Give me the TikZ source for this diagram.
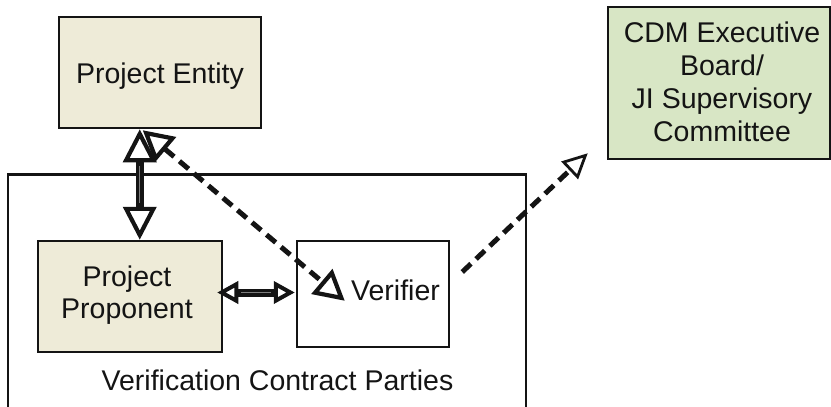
\documentclass[tikz,border=0pt]{standalone}
\usepackage{fontspec}
\setmainfont{Liberation Sans}
\usetikzlibrary{arrows.meta}
\definecolor{beige}{RGB}{238,235,216}
\definecolor{palegreen}{RGB}{216,230,197}
\definecolor{ink}{RGB}{20,20,20}
\begin{document}
\begin{tikzpicture}[x=1pt,y=-1pt,
  box/.style={draw=ink, line width=2.5pt, inner sep=0pt},
  lbl/.style={text=ink, font=\fontsize{28.5}{32}\selectfont, inner sep=0pt},
  bighead/.tip={Triangle[open,length=33pt,width=33pt,line width=4.2pt]},
  midhead/.tip={Triangle[open,length=30pt,width=32pt,line width=4.2pt]},
  smallhead/.tip={Triangle[open,length=21pt,width=22pt,line width=4pt]},
  tinyhead/.tip={Triangle[open,length=25pt,width=24pt,line width=2.8pt]},
  shaft/.style={draw=ink, line width=8pt},
  gap/.style={draw=ink!55, line width=0.8pt},
  dashline/.style={draw=ink, line width=5pt, dash pattern=on 12pt off 7pt}
]
\useasboundingbox (0,0) rectangle (831,407);

% container
\draw[draw=ink, line width=2.4pt] (8,420) -- (8,174.5) -- (526,174.5) -- (526,420);

% boxes
\node[box, fill=beige, minimum width=202pt, minimum height=111pt] (pe) at (160,72.5) {};
\node[box, fill=beige, minimum width=184pt, minimum height=111pt] (pp) at (130,296.5) {};
\node[box, fill=white, minimum width=152pt, minimum height=106pt] (vf) at (373,294) {};
\node[box, fill=palegreen, minimum width=222pt, minimum height=152pt] (cdm) at (719,83) {};

% texts
\node[lbl, anchor=base] (tpe) at (160,83) {Project Entity};
\node[lbl, align=center] (tpp) at (127,295.6) {Project\\Proponent};
\node[lbl, anchor=base] (tvf) at (395.5,300) {Verifier};
\node[lbl, anchor=base] (tvcp) at (277.5,390) {Verification Contract Parties};
\node[lbl, align=center, font=\fontsize{28.5}{33}\selectfont] (tcdm) at (722,82.3)
  {CDM Executive\\Board/\\JI Supervisory\\Committee};

% vertical double arrow
\draw[shaft, bighead-bighead] ([xshift=82pt]pe.south west) -- ([xshift=103pt]pp.north west);
\draw[gap, shorten <=37pt, shorten >=37pt] ([xshift=82pt]pe.south west) -- ([xshift=103pt]pp.north west);

% horizontal double arrow
\draw[shaft, smallhead-smallhead] ([xshift=-6pt,yshift=4pt]pp.east) -- ([xshift=-1pt,yshift=1.5pt]vf.west);
\draw[gap, shorten <=24pt, shorten >=24pt] ([xshift=-6pt,yshift=4pt]pp.east) -- ([xshift=-1pt,yshift=1.5pt]vf.west);

% dashed arrows
\draw[dashline, midhead-midhead] ([xshift=85pt,yshift=-1pt]pe.south west) -- ([xshift=49pt,yshift=-61pt]vf.north west);
\draw[dashline, -tinyhead] ([xshift=12pt,yshift=22pt]vf.east) -- ([xshift=-19pt,yshift=7pt]cdm.south west);
\end{tikzpicture}
\end{document}
